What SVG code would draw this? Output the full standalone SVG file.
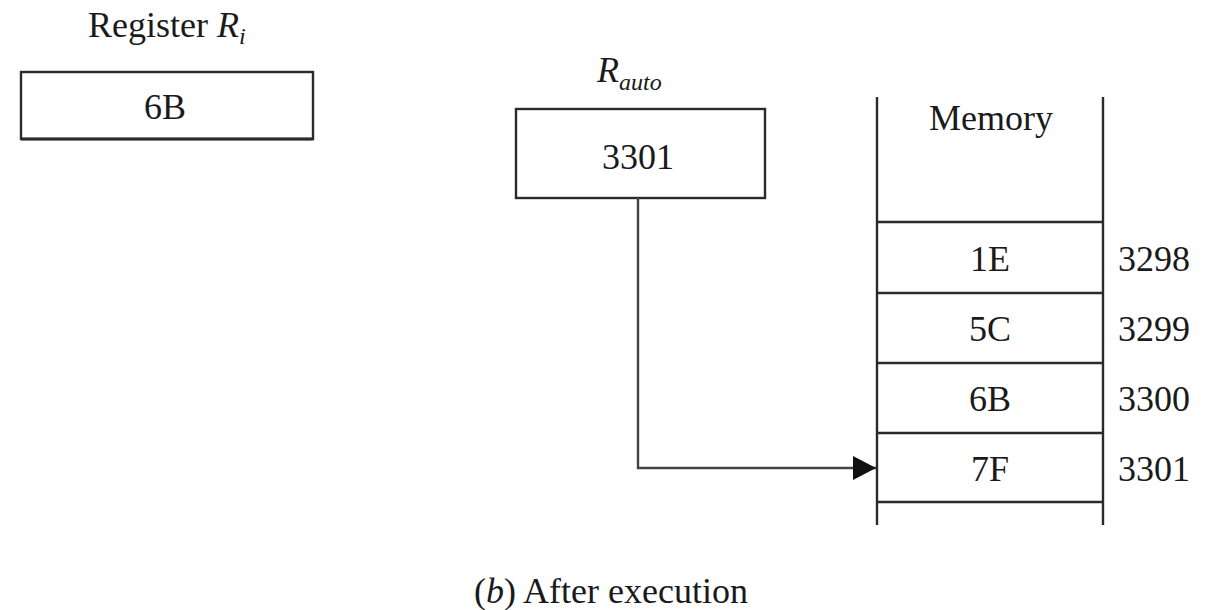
<svg xmlns="http://www.w3.org/2000/svg" width="1220" height="610" viewBox="0 0 1220 610">
  <style>
    text { font-family: "Liberation Serif", "Times New Roman", serif; fill: #1a1a1a; }
    .lbl { font-size: 36px; }
    .mid { text-anchor: middle; }
    .box { fill: #fff; stroke: #2a2a2a; stroke-width: 2.4; }
    .rule { stroke: #2a2a2a; stroke-width: 2.4; fill: none; }
    .wire { stroke: #444; stroke-width: 2.4; fill: none; }
  </style>
  <defs>
    <marker id="tip" markerUnits="userSpaceOnUse" markerWidth="24" markerHeight="24" refX="23" refY="12" orient="auto">
      <path d="M0,0 L23,12 L0,24 Z" fill="#111"/>
    </marker>
  </defs>
  <rect width="1220" height="610" fill="#fff"/>

  <!-- register Ri -->
  <g id="register-ri">
    <text class="lbl" x="88" y="37">Register <tspan font-style="italic">R</tspan><tspan font-style="italic" font-size="24" dy="7">i</tspan></text>
    <rect class="box" x="21" y="72" width="292" height="67"/>
    <line x1="21" y1="139" x2="313" y2="139" stroke="#2a2a2a" stroke-width="3.2"/>
    <text class="lbl mid" x="165" y="119">6B</text>
  </g>

  <!-- auto-increment register -->
  <g id="register-rauto">
    <text class="lbl" x="597" y="82"><tspan font-style="italic">R</tspan><tspan font-style="italic" font-size="24" dy="8">auto</tspan></text>
    <rect class="box" x="516" y="109" width="249" height="89"/>
    <text class="lbl mid" x="638" y="169">3301</text>
  </g>

  <!-- memory column -->
  <g id="memory">
    <line class="rule" x1="877" y1="97" x2="877" y2="525"/>
    <line class="rule" x1="1103" y1="97" x2="1103" y2="525" stroke-width="2"/>
    <text class="lbl mid" x="991" y="130">Memory</text>
    <line class="rule" x1="877" y1="222" x2="1103" y2="222"/>
    <line class="rule" x1="877" y1="293" x2="1103" y2="293"/>
    <line class="rule" x1="877" y1="363" x2="1103" y2="363"/>
    <line class="rule" x1="877" y1="433" x2="1103" y2="433"/>
    <line class="rule" x1="877" y1="502" x2="1103" y2="502"/>
  </g>
  <g id="cell-3298">
    <text class="lbl mid" x="990" y="271">1E</text>
    <text class="lbl" x="1118" y="271">3298</text>
  </g>
  <g id="cell-3299">
    <text class="lbl mid" x="990" y="341">5C</text>
    <text class="lbl" x="1118" y="341">3299</text>
  </g>
  <g id="cell-3300">
    <text class="lbl mid" x="990" y="411">6B</text>
    <text class="lbl" x="1118" y="411">3300</text>
  </g>
  <g id="cell-3301">
    <text class="lbl mid" x="990" y="481">7F</text>
    <text class="lbl" x="1118" y="481">3301</text>
  </g>

  <!-- pointer from Rauto into memory -->
  <g id="connectors">
    <path class="wire" d="M638,198 V468 H876" marker-end="url(#tip)"/>
  </g>

  <text id="caption" class="mid" x="611" y="603" font-size="36">(<tspan font-style="italic">b</tspan>) After execution</text>
</svg>
